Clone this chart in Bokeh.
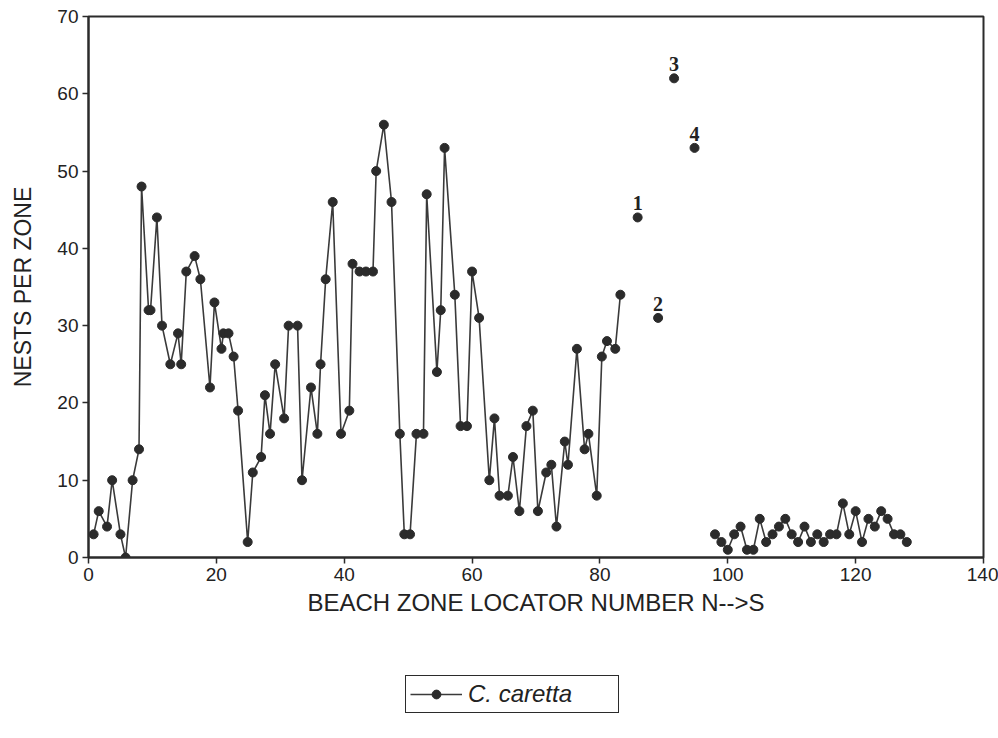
from bokeh.plotting import figure
from bokeh.layouts import column
from bokeh.models import Legend, LegendItem, FixedTicker, Range1d, ColumnDataSource, LabelSet
from bokeh.embed import file_html
from bokeh.resources import INLINE

# Main connected series (zones ~1-83)
zone_a = [0.8, 1.6, 2.9, 3.7, 5.0, 5.8, 6.9, 7.9, 8.3, 9.4,
          9.7, 10.7, 11.5, 12.8, 14.0, 14.5, 15.3, 16.6, 17.5, 19.0,
          19.7, 20.8, 21.1, 21.9, 22.7, 23.4, 24.9, 25.7, 27.0, 27.6,
          28.4, 29.2, 30.6, 31.3, 32.7, 33.4, 34.8, 35.8, 36.3, 37.1,
          38.2, 39.5, 40.8, 41.3, 42.4, 43.4, 44.5, 45.0, 46.2, 47.4,
          48.7, 49.4, 50.3, 51.3, 52.4, 52.9, 54.5, 55.1, 55.7, 57.3,
          58.2, 59.2, 60.0, 61.1, 62.7, 63.5, 64.3, 65.6, 66.4, 67.4,
          68.5, 69.5, 70.3, 71.6, 72.4, 73.2, 74.5, 75.0, 76.4, 77.6,
          78.2, 79.5, 80.3, 81.1, 82.4, 83.2]
nests_a = [3, 6, 4, 10, 3, 0, 10, 14, 48, 32,
           32, 44, 30, 25, 29, 25, 37, 39, 36, 22,
           33, 27, 29, 29, 26, 19, 2, 11, 13, 21,
           16, 25, 18, 30, 30, 10, 22, 16, 25, 36,
           46, 16, 19, 38, 37, 37, 37, 50, 56, 46,
           16, 3, 3, 16, 16, 47, 24, 32, 53, 34,
           17, 17, 37, 31, 10, 18, 8, 8, 13, 6,
           17, 19, 6, 11, 12, 4, 15, 12, 27, 14,
           16, 8, 26, 28, 27, 34]

# Isolated labelled zones
zone_b = [85.9, 89.1, 91.6, 94.8]
nests_b = [44, 31, 62, 53]
labels_b = ["1", "2", "3", "4"]

# Southern connected series (zones 98-128)
zone_c = [98, 99, 100, 101, 102, 103, 104, 105, 106, 107,
          108, 109, 110, 111, 112, 113, 114, 115, 116, 117,
          118, 119, 120, 121, 122, 123, 124, 125, 126, 127, 128]
nests_c = [3, 2, 1, 3, 4, 1, 1, 5, 2, 3,
           4, 5, 3, 2, 4, 2, 3, 2, 3, 3,
           7, 3, 6, 2, 5, 4, 6, 5, 3, 3, 2]

x_ticks = [0, 20, 40, 60, 80, 100, 120, 140]
y_ticks = [0, 10, 20, 30, 40, 50, 60, 70]
series_name = "C. caretta"

FONT = "Liberation Sans"
INK = "#2b2b2b"
TXT = "#222222"

p = figure(width=998, height=640, output_backend="svg", toolbar_location=None,
           x_range=Range1d(0, 140), y_range=Range1d(0, 70),
           min_border_left=88, min_border_right=15, min_border_top=16,
           min_border_bottom=83, background_fill_color="white",
           border_fill_color="white")
p.grid.visible = False
p.outline_line_color = INK
p.outline_line_width = 2

for ax in (p.xaxis[0], p.yaxis[0]):
    ax.axis_line_color = INK
    ax.axis_line_width = 2
    ax.major_tick_in = 0
    ax.major_tick_out = 6
    ax.major_tick_line_color = INK
    ax.major_tick_line_width = 1.5
    ax.minor_tick_line_color = None
    ax.major_label_text_font = FONT
    ax.major_label_text_font_size = "19px"
    ax.major_label_text_color = TXT
    ax.axis_label_text_font = FONT
    ax.axis_label_text_font_style = "normal"
    ax.axis_label_text_color = TXT

p.xaxis.axis_label_text_font_size = "24px"
p.yaxis.axis_label_text_font_size = "23px"
p.xaxis.ticker = FixedTicker(ticks=x_ticks)
p.yaxis.ticker = FixedTicker(ticks=y_ticks)
p.xaxis.axis_label = "BEACH ZONE LOCATOR NUMBER N-->S"
p.yaxis.axis_label = "NESTS PER ZONE"
p.xaxis.major_label_standoff = 4
p.xaxis.axis_label_standoff = 5
p.yaxis.major_label_standoff = 4
p.yaxis.axis_label_standoff = 18

src_a = ColumnDataSource(dict(x=zone_a, y=nests_a))
src_c = ColumnDataSource(dict(x=zone_c, y=nests_c))
src_b = ColumnDataSource(dict(x=zone_b, y=nests_b, t=labels_b))

p.line("x", "y", source=src_a, line_color="#3a3a3a", line_width=1.6)
p.scatter("x", "y", source=src_a, size=9, fill_color=INK, line_color=INK)
p.line("x", "y", source=src_c, line_color="#3a3a3a", line_width=1.6)
p.scatter("x", "y", source=src_c, size=9, fill_color=INK, line_color=INK)
p.scatter("x", "y", source=src_b, size=9, fill_color=INK, line_color=INK)

lbl = LabelSet(x="x", y="y", text="t", source=src_b, x_offset=0, y_offset=7,
               text_align="center", text_baseline="bottom",
               text_font="Liberation Serif", text_font_size="20px",
               text_font_style="bold", text_color=TXT)
p.add_layout(lbl)

# Legend strip below the chart (its frame is aligned with the chart frame)
p2 = figure(width=998, height=98, output_backend="svg", toolbar_location=None,
            x_range=Range1d(0, 1), y_range=Range1d(0, 1),
            min_border_left=0, min_border_right=0, min_border_top=0,
            min_border_bottom=0, background_fill_color="white",
            border_fill_color="white")
p2.axis.visible = False
p2.grid.visible = False
p2.outline_line_color = None
dl = p2.line(x=[-5, -4], y=[-5, -4], line_color="#3a3a3a", line_width=1.6)
ds = p2.scatter(x=[-5], y=[-5], size=9, fill_color=INK, line_color=INK)
legend = Legend(items=[LegendItem(label=series_name, renderers=[dl, ds])],
                location=(317, 25), orientation="horizontal",
                label_text_font=FONT, label_text_font_style="italic",
                label_text_font_size="24px", label_text_color=TXT,
                border_line_color=INK, border_line_width=1.5,
                border_line_alpha=1.0,
                glyph_width=52, glyph_height=22, padding=4, spacing=0,
                margin=0, label_standoff=6, label_width=146,
                background_fill_alpha=1)
p2.add_layout(legend, "center")

layout = column(p, p2, spacing=0)
open("out.html", "w").write(file_html(layout, INLINE))
